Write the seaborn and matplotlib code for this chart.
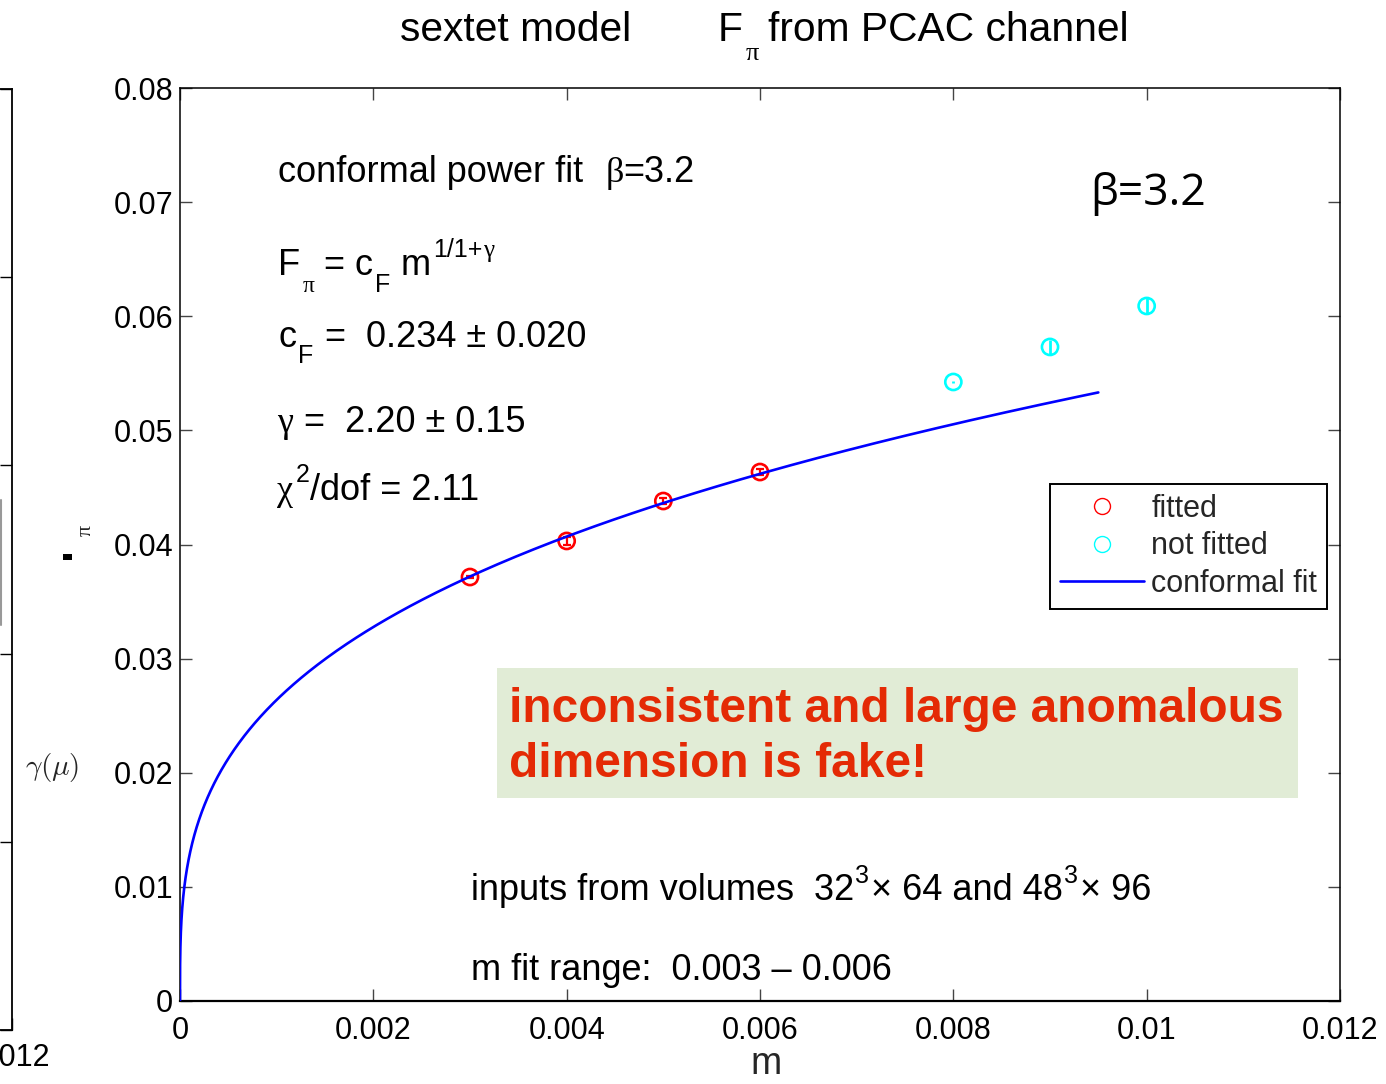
import numpy as np
import pandas as pd
import matplotlib
matplotlib.use("Agg")
import matplotlib.pyplot as plt
import seaborn as sns
from matplotlib.lines import Line2D
from matplotlib.patches import Rectangle

# ---------------- data ----------------
m_fitted = [0.003, 0.004, 0.005, 0.006]
F_fitted = [0.03715, 0.04031, 0.04381, 0.04635]
F_fitted_err = [0.0001, 0.00035, 0.0003, 0.0003]

m_notfit = [0.008, 0.009, 0.010]
F_notfit = [0.05424, 0.05731, 0.0609]
F_notfit_err = [0.0001, 0.0006, 0.0007]

c_fit = 0.2285
gamma_fit = 2.20
m_curve_max = 0.0095

x_ticks = [0, 0.002, 0.004, 0.006, 0.008, 0.010, 0.012]
x_tick_labels = ["0", "0.002", "0.004", "0.006", "0.008", "0.01", "0.012"]
y_ticks = [0, 0.01, 0.02, 0.03, 0.04, 0.05, 0.06, 0.07, 0.08]
y_tick_labels = ["0", "0.01", "0.02", "0.03", "0.04", "0.05", "0.06", "0.07", "0.08"]

legend_labels = ["fitted", "not fitted", "conformal fit"]

# ---------------- style ----------------
sns.set_theme(style="ticks")
SANS = ["Liberation Sans", "DejaVu Sans"]
SERIF = ["Liberation Serif", "DejaVu Serif"]
plt.rcParams["font.family"] = SANS
plt.rcParams["axes.linewidth"] = 1.1

W, H = 1386, 1084
fig = plt.figure(figsize=(W / 100, H / 100), dpi=100)
fig.patch.set_facecolor("white")


def fx(px):
    return px / W


def fy(py):
    return 1 - py / H


# ---------------- partial neighbouring panel (left edge) ----------------
axl = fig.add_axes([fx(12 - 500), fy(1030), 500 / W, (1030 - 89) / H])
axl.set_xlim(0, 0.012)
axl.set_ylim(0, 5)
axl.set_xticks([0.012])
axl.set_xticklabels(["0.012"])
axl.set_yticks(range(6))
axl.set_yticklabels([])
axl.tick_params(axis="both", direction="in", length=9, width=1, colors="black",
                labelsize=22, right=True, top=False)
axl.tick_params(axis="x", pad=9)
for s in axl.spines.values():
    s.set_color("black")
    s.set_linewidth(1.3)

# ---------------- main axes ----------------
ax = fig.add_axes([fx(180), fy(1001), (1340 - 180) / W, (1001 - 88) / H])

m_curve = np.concatenate([[0.0], np.geomspace(1e-9, m_curve_max, 1500)])
F_curve = c_fit * m_curve ** (1.0 / (1.0 + gamma_fit))
df_curve = pd.DataFrame({"m": m_curve, "F": F_curve})
df_fit = pd.DataFrame({"m": m_fitted, "F": F_fitted, "err": F_fitted_err})
df_nf = pd.DataFrame({"m": m_notfit, "F": F_notfit, "err": F_notfit_err})

ax.errorbar(df_fit["m"], df_fit["F"], yerr=df_fit["err"], fmt="none",
            ecolor="red", elinewidth=1.6, capsize=3, capthick=1.6, zorder=2)
ax.errorbar(df_nf["m"], df_nf["F"], yerr=df_nf["err"], fmt="none",
            ecolor="cyan", elinewidth=2.0, capsize=0, zorder=2)
sns.scatterplot(data=df_fit, x="m", y="F", ax=ax, marker="o", s=135,
                facecolors="none", edgecolor="red", linewidth=1.9, zorder=2,
                legend=False)
sns.scatterplot(data=df_nf, x="m", y="F", ax=ax, marker="o", s=135,
                facecolors="none", edgecolor="cyan", linewidth=1.9, zorder=2,
                legend=False)
sns.lineplot(data=df_curve, x="m", y="F", ax=ax, color="blue", linewidth=1.9,
             estimator=None, sort=False, zorder=3, legend=False)

ax.set_xlim(0, 0.012)
ax.set_ylim(0, 0.08)
ax.set_xticks(x_ticks)
ax.set_xticklabels(x_tick_labels)
ax.set_yticks(y_ticks)
ax.set_yticklabels(y_tick_labels)
ax.tick_params(axis="both", direction="in", length=8.5, width=1.0, color="#444444",
               labelsize=22, labelcolor="black", top=True, right=True)
ax.tick_params(axis="x", pad=11)
ax.tick_params(axis="y", pad=5)
for s in ax.spines.values():
    s.set_color("black")
    s.set_linewidth(1.1)
ax.spines["bottom"].set_linewidth(1.6)
ax.set_xlabel("")
ax.set_ylabel("")
fig.text(fx(766), fy(1074), "m", fontsize=27, ha="center", va="baseline")

# legend
handles = [
    Line2D([], [], linestyle="none", marker="o", markersize=11.5,
           markerfacecolor="none", markeredgecolor="red", markeredgewidth=1.0),
    Line2D([], [], linestyle="none", marker="o", markersize=11.5,
           markerfacecolor="none", markeredgecolor="cyan", markeredgewidth=1.0),
    Line2D([], [], color="blue", linewidth=1.9),
]
leg = ax.legend(handles, legend_labels, loc="upper right",
                bbox_to_anchor=((1327 - 180) / 1160, (1001 - 484) / 913),
                borderaxespad=0, fontsize=22, frameon=True, fancybox=False,
                framealpha=1, edgecolor="black", handlelength=2.75,
                handletextpad=0.25, labelspacing=0.25, borderpad=0.32)
leg.get_frame().set_linewidth(1.4)

# ---------------- texts ----------------
renderer = fig.canvas.get_renderer()


def chain(x_px, base_px, pieces, color="black", weight="normal"):
    x = x_px
    for txt, size, fam, dy, gap in pieces:
        x += gap
        t = fig.text(fx(x), fy(base_px + dy), txt, fontsize=size, family=fam,
                     ha="left", va="baseline", color=color, weight=weight)
        bb = t.get_window_extent(renderer)
        x = bb.x1


# title
chain(400, 41, [("sextet model", 29.3, SANS, 0, 0)])
chain(718, 41, [("F", 29.3, SANS, 0, 0), ("π", 19, SERIF, 19, 3),
                ("from PCAC channel", 29.3, SANS, 0, 9)])

# fit annotation
A = 26
S = 18
chain(278, 182, [("conformal power fit", A, SANS, 0, 0), ("β", A, SERIF, 0, 22),
                 ("=3.2", A, SANS, 0, 0)])
chain(278, 275, [("F", A, SANS, 0, 0), ("π", 17, SERIF, 17, 3),
                 ("= c", A, SANS, 0, 9), ("F", S, SANS, 17, 2),
                 ("m", A, SANS, 0, 10), ("1/1+", S, SANS, -18, 3),
                 ("γ", S, SERIF, -18, 0)])
chain(278, 347, [("c", A, SANS, 0, 0), ("F", S, SANS, 16, 2),
                 ("=  0.234 ± 0.020", A, SANS, 0, 12)])
chain(277, 432, [("γ", A, SERIF, 0, 0), ("=  2.20 ± 0.15", A, SANS, 0, 11)])
chain(277, 500, [("χ", A, SERIF, 0, 0), ("2", S, SANS, -18, 3),
                 ("/dof = 2.11", A, SANS, 0, 0)])

# beta label
chain(1090, 205, [("β=3.2", 32, ["Open Sans", "DejaVu Sans"], 0, 0)])

# bottom texts
chain(471, 900, [("inputs from volumes  32", A, SANS, 0, 0), ("3", S, SANS, -17, 1),
                 ("× 64 and 48", A, SANS, 0, 2), ("3", S, SANS, -17, 1),
                 ("× 96", A, SANS, 0, 2)])
chain(471, 980, [("m fit range:  0.003 – 0.006", A, SANS, 0, 0)])

# highlighted box
fig.patches.append(Rectangle((fx(497), fy(798)), (1298 - 497) / W, (798 - 668) / H,
                             transform=fig.transFigure, facecolor="#E1ECD6",
                             edgecolor="none", zorder=1))
RED = "#E42A05"
chain(509, 722, [("inconsistent and large anomalous", 34.5, SANS, 0, 0)],
      color=RED, weight="bold")
chain(509, 777, [("dimension is fake!", 34.5, SANS, 0, 0)], color=RED, weight="bold")

# fragments at the left edge
fig.text(fx(52), fy(768), r"$\gamma(\mu)$", fontsize=21, ha="center", va="center",
         math_fontfamily="cm")
fig.text(fx(86), fy(530), "π", fontsize=16, family=SERIF, rotation=90,
         ha="center", va="center")
fig.patches.append(Rectangle((fx(63), fy(560)), 9 / W, 6 / H,
                             transform=fig.transFigure, facecolor="black",
                             edgecolor="none"))
fig.lines.append(Line2D([fx(1), fx(1)], [fy(500), fy(625)], transform=fig.transFigure,
                        color="#999999", linewidth=1.5))

fig.savefig("out.png", dpi=100, facecolor="white")
